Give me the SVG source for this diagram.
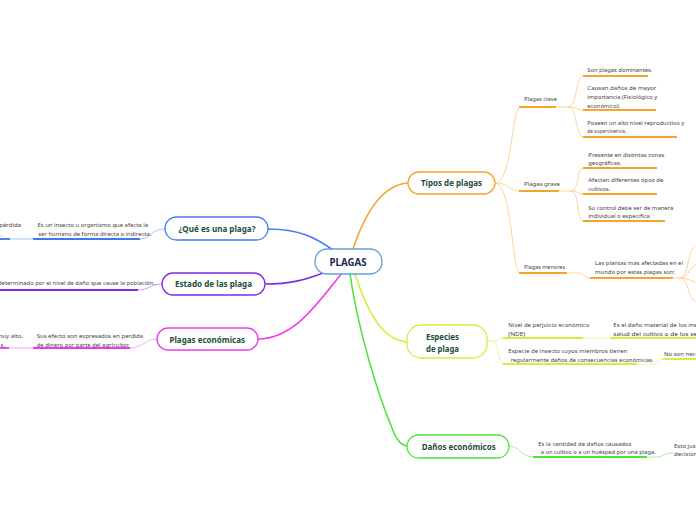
<svg xmlns="http://www.w3.org/2000/svg" width="696" height="520" viewBox="0 0 696 520">
<style>
.bg{fill:#ffffff}
.box{fill:#ffffff;stroke-width:1.3}
.lbl{font-family:"Noto Sans","Open Sans",sans-serif;font-weight:bold;font-size:8.5px;fill:#1e4d3c}
.ctr{font-family:"Noto Sans","Open Sans",sans-serif;font-weight:bold;font-size:10.5px;fill:#1b2a57}
.t{font-family:"Noto Sans","Open Sans",sans-serif;font-size:6px;fill:#444444}
.c1{fill:none;stroke-width:1.6;stroke-linecap:round}
.thin{fill:none;stroke-width:1;stroke-linecap:round}
.ul{fill:none;stroke-width:1.8}
.blue{stroke:#3f78f2}.lblue{stroke:#a9c3fb}
.purple{stroke:#7d2ce6}.lpurple{stroke:#c3a0f4}
.mag{stroke:#ee3aee}.lmag{stroke:#f6a8f6}
.org{stroke:#f6a42a}.lorg{stroke:#fcd49a}
.yel{stroke:#d5ee3a}.lyel{stroke:#ecf7a2}
.grn{stroke:#4de43a}.lgrn{stroke:#a8f09e}
</style>
<rect class="bg" x="0" y="0" width="696" height="520"/>
<g id="connectors">
  <!-- level 1 -->
  <path class="c1 blue" d="M268,229 C300,229 316,238 333,250"/>
  <path class="c1 purple" d="M265,284 C290,284 305,280 323,273"/>
  <path class="c1 mag" d="M258,339 C295,339 320,300 342,273"/>
  <path class="c1 org" d="M353,249 C362,222 378,185 408,183"/>
  <path class="c1 yel" d="M355,274 C365,305 380,340 407,342"/>
  <path class="c1 grn" d="M350,274 C358,330 378,395 392,428 Q398,445 407,446"/>
  <!-- left: blue -->
  <path class="thin lblue" d="M165,229 C150,229 152,239 140,239"/>
  <path class="ul blue" d="M33,239 L140,239"/>
  <path class="thin lblue" d="M10,239 L33,239"/>
  <path class="ul blue" d="M0,239 L10,239"/>
  <!-- left: purple -->
  <path class="thin lpurple" d="M162,284 C150,284 150,290 138,290"/>
  <path class="ul purple" d="M0,290 L138,290"/>
  <!-- left: magenta -->
  <path class="thin lmag" d="M157,339 C145,339 143,348 130,348"/>
  <path class="ul mag" d="M33,348 L130,348"/>
  <path class="thin lmag" d="M9,348 L33,348"/>
  <path class="ul mag" d="M0,348 L9,348"/>
  <!-- orange -->
  <path class="thin lorg" d="M495,183 C513,183 511,107 520,107"/>
  <path class="thin lorg" d="M495,183 C510,183 509,191 520,191"/>
  <path class="thin lorg" d="M495,183 C513,183 511,273 520,273"/>
  <path class="ul org" d="M519,107 L556,107"/>
  <path class="thin lorg" d="M556,107 L568,107"/>
  <path class="thin lorg" d="M568,107 C578,107 575,76 583,76"/>
  <path class="thin lorg" d="M568,107 C578,107 575,110 583,110"/>
  <path class="thin lorg" d="M568,107 C578,107 575,137 583,137"/>
  <path class="ul org" d="M583,76 L648,76"/>
  <path class="ul org" d="M583,110 L656,110"/>
  <path class="ul org" d="M583,137 L677,137"/>
  <path class="ul org" d="M519,191 L559,191"/>
  <path class="thin lorg" d="M559,191 L571,191"/>
  <path class="thin lorg" d="M571,191 C580,191 576,168 583,168"/>
  <path class="thin lorg" d="M571,191 C580,191 576,194 583,194"/>
  <path class="thin lorg" d="M571,191 C580,191 576,221 583,221"/>
  <path class="ul org" d="M583,168 L657,168"/>
  <path class="ul org" d="M583,194 L657,194"/>
  <path class="ul org" d="M583,221 L665,221"/>
  <path class="ul org" d="M519,273 L567,273"/>
  <path class="thin lorg" d="M567,273 L578,273 C584,273 584,278 591,278"/>
  <path class="ul org" d="M590,278 L673,278"/>
  <path class="thin lorg" d="M673,278 L680,278"/>
  <path class="thin lorg" d="M680,278 C690,278 686,247 698,244"/>
  <path class="thin lorg" d="M680,278 C690,278 688,266 698,264"/>
  <path class="thin lorg" d="M680,278 C690,278 690,282 698,282"/>
  <path class="thin lorg" d="M680,278 C690,278 686,300 698,303"/>
  <!-- yellow -->
  <path class="thin lyel" d="M487,341 L493,341 C499,341 497,338 504,338"/>
  <path class="thin lyel" d="M487,341 L493,341 C499,341 497,364 504,364"/>
  <path class="ul yel" d="M503,338 L583,338"/>
  <path class="thin lyel" d="M583,338 L610,338"/>
  <path class="ul yel" d="M610,338 L696,338"/>
  <path class="ul yel" d="M503,364 L637,364"/>
  <path class="thin lyel" d="M637,364 L653,364 C658,364 658,359 664,359"/>
  <path class="ul yel" d="M663,359 L696,359"/>
  <!-- green -->
  <path class="thin lgrn" d="M509,446 C521,446 520,457 533,457"/>
  <path class="ul grn" d="M533,457 L647,457"/>
  <path class="thin lgrn" d="M647,457 L657,457 C663,457 663,453 673,453"/>
</g>
<g id="node-plagas">
  <rect class="box" x="315" y="249" width="67" height="25" rx="12" stroke="#5ea3d8"/>
  <text class="ctr" x="329.5" y="265.5" textLength="37" lengthAdjust="spacingAndGlyphs">PLAGAS</text>
</g>
<g id="node-que-es">
  <rect class="box" x="165" y="217" width="103" height="23" rx="11.5" stroke="#3f78f2"/>
  <text class="lbl" x="178.5" y="232" textLength="77" lengthAdjust="spacingAndGlyphs">¿Qué es una plaga?</text>
</g>
<g id="node-que-es-text">
  <text class="t" x="37.5" y="226.5" textLength="110.5" lengthAdjust="spacingAndGlyphs">Es un insecto u organismo que afecta la</text>
  <text class="t" x="38.3" y="235.5" textLength="113" lengthAdjust="spacingAndGlyphs">ser humano de forma directa o indirecta.</text>
  <text class="t" x="21" y="226.5" text-anchor="end">pérdida</text>
  <text class="t" x="2" y="235.5" text-anchor="end">.</text>
</g>
<g id="node-estado">
  <rect class="box" x="162" y="273" width="103" height="22" rx="11" stroke="#7d2ce6"/>
  <text class="lbl" x="175" y="287" textLength="77" lengthAdjust="spacingAndGlyphs">Estado de las plaga</text>
</g>
<g id="node-estado-text">
  <text class="t" x="155" y="285" text-anchor="end" textLength="157" lengthAdjust="spacingAndGlyphs">determinado por el nivel de daño que cause la población.</text>
</g>
<g id="node-economicas">
  <rect class="box" x="157" y="328" width="101" height="22" rx="11" stroke="#ee3aee"/>
  <text class="lbl" x="169.5" y="343" textLength="75.5" lengthAdjust="spacingAndGlyphs">Plagas económicas</text>
</g>
<g id="node-economicas-text">
  <text class="t" x="36.7" y="337.5" textLength="106.5" lengthAdjust="spacingAndGlyphs">Sus efecto son expresados en perdida</text>
  <text class="t" x="36.7" y="346.5" textLength="93" lengthAdjust="spacingAndGlyphs">de dinero por parte del agricultor.</text>
  <text class="t" x="23" y="337.5" text-anchor="end">muy alto,</text>
  <text class="t" x="5" y="346.5" text-anchor="end">s.</text>
</g>
<g id="node-tipos">
  <rect class="box" x="408" y="172" width="87" height="22" rx="11" stroke="#f6a42a"/>
  <text class="lbl" x="421" y="186" textLength="61" lengthAdjust="spacingAndGlyphs">Tipos de plagas</text>
</g>
<g id="node-plagas-clave">
  <text class="t" x="524" y="101" textLength="33" lengthAdjust="spacingAndGlyphs">Plagas clave</text>
  <text class="t" x="587.3" y="71.5" textLength="65" lengthAdjust="spacingAndGlyphs">Son plagas dominantes.</text>
  <text class="t" x="587.3" y="89.5" textLength="69" lengthAdjust="spacingAndGlyphs">Causan daños de mayor</text>
  <text class="t" x="587.3" y="99" textLength="70" lengthAdjust="spacingAndGlyphs">importancia (Fisiológico y</text>
  <text class="t" x="587.3" y="107.5" textLength="33" lengthAdjust="spacingAndGlyphs">económico).</text>
  <text class="t" x="587.3" y="124.5" textLength="97" lengthAdjust="spacingAndGlyphs">Poseen un alto nivel reproductivo y</text>
  <text class="t" x="587.3" y="133" textLength="39" lengthAdjust="spacingAndGlyphs">de supervivencia.</text>
</g>
<g id="node-plagas-grave">
  <text class="t" x="524" y="185.5" textLength="36" lengthAdjust="spacingAndGlyphs">Plagas grave</text>
  <text class="t" x="588.3" y="156.5" textLength="76" lengthAdjust="spacingAndGlyphs">Presente en distintas zonas</text>
  <text class="t" x="588.3" y="164.5" textLength="33" lengthAdjust="spacingAndGlyphs">geográficas.</text>
  <text class="t" x="588.3" y="182" textLength="75" lengthAdjust="spacingAndGlyphs">Afectan diferentes tipos de</text>
  <text class="t" x="588.3" y="190.5" textLength="22" lengthAdjust="spacingAndGlyphs">cultivos.</text>
  <text class="t" x="588.3" y="209.5" textLength="85" lengthAdjust="spacingAndGlyphs">Su control debe ser de manera</text>
  <text class="t" x="588.3" y="217.5" textLength="63" lengthAdjust="spacingAndGlyphs">individual o especifica.</text>
</g>
<g id="node-plagas-menores">
  <text class="t" x="524" y="269" textLength="41" lengthAdjust="spacingAndGlyphs">Plagas menores</text>
  <text class="t" x="595" y="264.5" textLength="88" lengthAdjust="spacingAndGlyphs">Las plantas más afectadas en el</text>
  <text class="t" x="595" y="273.5" textLength="80" lengthAdjust="spacingAndGlyphs">mundo por estas plagas son:</text>
</g>
<g id="node-especies">
  <rect class="box" x="407" y="325" width="80" height="33" rx="14" stroke="#d5ee3a"/>
  <text class="lbl" x="426" y="339.5" textLength="33" lengthAdjust="spacingAndGlyphs">Especies</text>
  <text class="lbl" x="426" y="351.5" textLength="33" lengthAdjust="spacingAndGlyphs">de plaga</text>
</g>
<g id="node-especies-text">
  <text class="t" x="508.3" y="326.5" textLength="81" lengthAdjust="spacingAndGlyphs">Nivel de perjuicio económico</text>
  <text class="t" x="508.3" y="335.5" textLength="17" lengthAdjust="spacingAndGlyphs">(NDE)</text>
  <text class="t" x="613.3" y="326.5" textLength="110" lengthAdjust="spacingAndGlyphs">Es el daño material de los insectos a la</text>
  <text class="t" x="613.3" y="335.5" textLength="112" lengthAdjust="spacingAndGlyphs">salud del cultivo o de los seres vivos.</text>
  <text class="t" x="508.3" y="353" textLength="119" lengthAdjust="spacingAndGlyphs">Especie de insecto cuyos miembros tienen</text>
  <text class="t" x="510.7" y="361.5" textLength="143" lengthAdjust="spacingAndGlyphs">regularmente daños de consecuencias económicas.</text>
  <text class="t" x="664" y="355.5">No son necesariamente plagas.</text>
</g>
<g id="node-danos">
  <rect class="box" x="407" y="435" width="102" height="23" rx="11.5" stroke="#4de43a"/>
  <text class="lbl" x="421.7" y="449.5" textLength="74" lengthAdjust="spacingAndGlyphs">Daños económicos</text>
</g>
<g id="node-danos-text">
  <text class="t" x="538.3" y="445.5" textLength="93" lengthAdjust="spacingAndGlyphs">Es la cantidad de daños causados</text>
  <text class="t" x="540.7" y="454" textLength="115" lengthAdjust="spacingAndGlyphs">a un cultivo o a un huésped por una plaga.</text>
  <text class="t" x="674" y="447.5">Esto justifica la toma de</text>
  <text class="t" x="674" y="455.5">decisiones de control.</text>
</g>
</svg>
